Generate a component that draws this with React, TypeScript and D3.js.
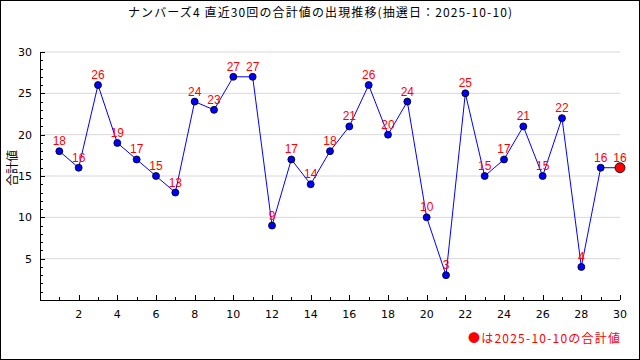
import React from "react";
import * as d3 from "d3";

const draws: number[] = Array.from({ length: 30 }, (_, i) => i + 1);
const sums: number[] = [18, 16, 26, 19, 17, 15, 13, 24, 23, 27, 27, 9, 17, 14, 18, 21, 26, 20, 24, 10, 3, 25, 15, 17, 21, 15, 22, 4, 16, 16];
const yTicks: number[] = [5, 10, 15, 20, 25, 30];
const xLabels: number[] = [2, 4, 6, 8, 10, 12, 14, 16, 18, 20, 22, 24, 26, 28, 30];
const titleText = "ナンバーズ4 直近30回の合計値の出現推移(抽選日：2025-10-10)";
const yLabel = "合計値";
const legendText = "●は2025-10-10の合計値";

export default function App() {
  const W = 640, H = 360;
  const left = 40, right = 620, top = 52, bottom = 300;
  const x = d3.scaleLinear().domain([0, 30]).range([left, right]);
  const y = d3.scaleLinear().domain([0, 30]).range([bottom, top]);
  const line = d3.line<number>().x((_, i) => x(draws[i])).y((d) => y(d));
  const font = "'DejaVu Sans', sans-serif";
  const vfont = "'Liberation Sans', Arial, sans-serif";
  const jp = "'Noto Sans CJK JP', sans-serif";
  const minorY = d3.range(1, 30);
  const minorX = d3.range(1, 31);
  return (
    <svg width={W} height={H} style={{ position: "absolute", left: 0, top: 0, background: "#fff" }}>
      <rect x={0.5} y={0.5} width={W - 1} height={H - 1} fill="#fff" stroke="#000" />
      <text x={128} y={17} textLength={384} lengthAdjust="spacing" fontFamily={jp} fontSize={12} fill="#000">{titleText}</text>
      {yTicks.map((t) => (
        <line key={"g" + t} x1={left} x2={right} y1={y(t)} y2={y(t)} stroke="#d8d8d8" />
      ))}
      <line x1={left + 0.5} x2={left + 0.5} y1={top} y2={bottom} stroke="#000" />
      <line x1={left} x2={right} y1={bottom + 0.5} y2={bottom + 0.5} stroke="#000" />
      {minorY.map((t) => (
        <line key={"yt" + t} x1={left} x2={left + (t % 5 === 0 ? 5 : 3)} y1={Math.round(y(t)) + 0.5} y2={Math.round(y(t)) + 0.5} stroke="#000" />
      ))}
      <line x1={left} x2={left + 5} y1={top + 0.5} y2={top + 0.5} stroke="#000" />
      {minorX.map((t) => (
        <line key={"xt" + t} x1={Math.round(x(t)) + 0.5} x2={Math.round(x(t)) + 0.5} y1={bottom} y2={bottom - (t % 2 === 0 ? 5 : 3)} stroke="#000" />
      ))}
      {yTicks.map((t) => (
        <text key={"yl" + t} x={left - 8} y={y(t) + 4} textAnchor="end" fontFamily={font} fontSize={11} fill="#000">{t}</text>
      ))}
      {xLabels.map((t) => (
        <text key={"xl" + t} x={x(t)} y={bottom + 18} textAnchor="middle" fontFamily={font} fontSize={11} fill="#000">{t}</text>
      ))}
      <text transform={`translate(11,168) rotate(-90)`} textAnchor="middle" dominantBaseline="central" fontFamily={jp} fontSize={12} fill="#000">{yLabel}</text>
      <path d={line(sums) || ""} fill="none" stroke="#0000ff" strokeWidth={1} />
      {sums.map((v, i) => {
        const last = i === sums.length - 1;
        return (
          <circle key={"c" + i} cx={x(draws[i])} cy={y(v)} r={last ? 5 : 3.5} fill={last ? "#ff0000" : "#0000ff"} stroke="#000" strokeWidth={0.8} />
        );
      })}
      {sums.map((v, i) => (
        <text key={"v" + i} x={x(draws[i])} y={y(v) - 6} textAnchor="middle" fontFamily={vfont} fontSize={12} fill="#ff0000">{v}</text>
      ))}
      <text x={468} y={343} textLength={152} lengthAdjust="spacing" fontFamily={jp} fontSize={12} fill="#ff0000">{legendText}</text>
    </svg>
  );
}
